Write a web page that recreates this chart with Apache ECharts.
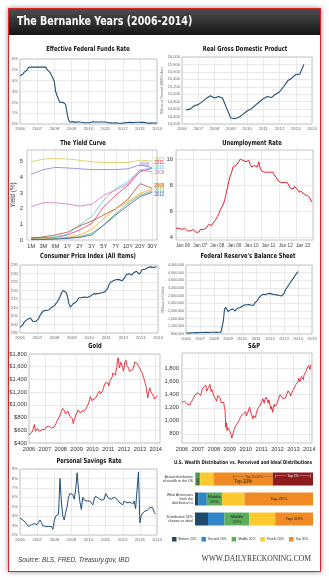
<!DOCTYPE html>
<html>
<head>
<meta charset="utf-8">
<script src="https://cdn.jsdelivr.net/npm/echarts@6/dist/echarts.min.js"></script>
<style>
  html, body { margin: 0; padding: 0; background: #fff; }
  #wrap { position: relative; width: 329px; height: 580px; overflow: hidden; }
  #card { position: absolute; left: 8px; top: 8px; width: 311px; height: 562px;
          border: 1px solid #d3262d; background: #fff; box-shadow: 0 0 5px rgba(0,0,0,0.45); }
  #band { position: absolute; left: 9px; top: 9px; width: 311px; height: 26px;
          background: linear-gradient(#4d4d4d, #161616); }
  #chart { position: absolute; left: 0; top: 0; width: 329px; height: 580px; }
</style>
</head>
<body>
<div id="wrap">
  <div id="card"></div>
  <div id="band"></div>
  <div id="chart"></div>
</div>
<script>
// ---------- data ----------
const yearTicks = [2006, 2007, 2008, 2009, 2010, 2011, 2012, 2013, 2014];

// Effective federal funds rate, monthly from Jan 2006 (%)
const fedFundsStart = 2006;
const fedFundsRate = [
  4.45, 4.49, 4.59, 4.79, 4.94, 4.99, 5.24, 5.25, 5.25, 5.25, 5.25, 5.24,
  5.25, 5.26, 5.26, 5.25, 5.25, 5.25, 5.26, 5.02, 4.94, 4.76, 4.49, 4.24,
  3.94, 2.98, 2.61, 2.28, 1.98, 2.00, 2.01, 2.00, 1.81, 0.97, 0.39, 0.16,
  0.15, 0.22, 0.18, 0.15, 0.18, 0.21, 0.16, 0.16, 0.15, 0.12, 0.12, 0.12,
  0.11, 0.13, 0.16, 0.20, 0.20, 0.18, 0.18, 0.19, 0.19, 0.19, 0.19, 0.18,
  0.17, 0.16, 0.14, 0.10, 0.09, 0.09, 0.07, 0.10, 0.08, 0.07, 0.08, 0.07,
  0.08, 0.10, 0.13, 0.14, 0.16, 0.16, 0.16, 0.13, 0.14, 0.16, 0.16, 0.16,
  0.14, 0.15, 0.14, 0.15, 0.11, 0.09, 0.09, 0.08, 0.08, 0.09, 0.08, 0.09,
  0.07
];

// Real GDP, quarterly from 2006 Q2 (billions of chained 2009 dollars)
const gdpStart = 2006.25;
const realGDP = [
  14580, 14600, 14690, 14720, 14800, 14890, 14960, 14900, 14940, 14890,
  14620, 14360, 14340, 14380, 14460, 14550, 14600, 14700, 14790, 14880,
  14940, 14910, 15000, 15060, 15200, 15360, 15430, 15530, 15540, 15800
];

// Treasury yield curves
const maturities = ['1M', '3M', '6M', '1Y', '2Y', '3Y', '5Y', '7Y', '10Y', '20Y', '30Y'];
const curveYears = ['2007', '2006', '2011', '2010', '2008', '2009', '2014', '2013', '2012'];
const yield2007 = [5.00, 5.17, 5.20, 5.17, 5.10, 5.00, 4.95, 4.95, 4.95, 5.10, 5.04];
const yield2006 = [4.20, 4.50, 4.64, 4.60, 4.55, 4.50, 4.50, 4.50, 4.55, 4.80, 4.62];
const yield2011 = [0.15, 0.15, 0.17, 0.32, 0.64, 1.06, 2.13, 2.87, 3.50, 4.36, 4.57];
const yield2010 = [0.10, 0.12, 0.20, 0.36, 0.96, 1.50, 2.55, 3.30, 3.72, 4.47, 4.60];
const yield2008 = [2.13, 2.38, 2.38, 2.30, 2.17, 2.28, 2.87, 3.19, 3.60, 4.47, 4.36];
const yield2009 = [0.10, 0.20, 0.32, 0.50, 0.90, 1.20, 1.60, 2.00, 2.60, 3.60, 3.30];
const yield2014 = [0.06, 0.06, 0.10, 0.17, 0.32, 0.68, 1.38, 2.00, 2.45, 2.98, 3.25];
const yield2013 = [0.04, 0.04, 0.08, 0.13, 0.20, 0.43, 0.96, 1.70, 2.34, 2.87, 3.13];
const yield2012 = [0.02, 0.03, 0.06, 0.10, 0.17, 0.32, 0.96, 1.60, 2.20, 2.77, 3.04];

// Unemployment rate, monthly from Jan 2006 (%)
const unemploymentStart = 2006;
const unemploymentRate = [
  4.7, 4.8, 4.7, 4.7, 4.6, 4.6, 4.7, 4.7, 4.5, 4.4, 4.5, 4.4,
  4.6, 4.5, 4.4, 4.5, 4.4, 4.6, 4.7, 4.6, 4.7, 4.7, 4.7, 5.0,
  5.0, 4.9, 5.1, 5.0, 5.4, 5.6, 5.8, 6.1, 6.1, 6.5, 6.8, 7.3,
  7.8, 8.3, 8.7, 9.0, 9.4, 9.5, 9.5, 9.6, 9.8, 10.0, 9.9, 9.9,
  9.8, 9.8, 9.9, 9.9, 9.6, 9.4, 9.4, 9.5, 9.5, 9.4, 9.8, 9.3,
  9.1, 9.0, 9.0, 9.1, 9.0, 9.1, 9.0, 9.0, 9.0, 8.8, 8.6, 8.5,
  8.3, 8.3, 8.2, 8.2, 8.2, 8.2, 8.2, 8.0, 7.8, 7.8, 7.7, 7.9,
  8.0, 7.7, 7.5, 7.6, 7.5, 7.5, 7.3, 7.2, 7.2, 7.2, 7.0, 6.7
];

// Consumer price index (all items), monthly from Jan 2006
const cpiStart = 2006;
const cpiAllItems = [
  198.3, 198.7, 199.8, 201.5, 202.5, 202.9, 203.5, 203.9, 202.9, 201.8, 201.5, 201.8,
  202.4, 203.5, 205.4, 206.7, 207.9, 208.4, 208.3, 207.9, 208.5, 208.9, 210.2, 210.0,
  211.1, 211.7, 213.5, 214.8, 216.6, 218.8, 220.0, 219.1, 218.8, 216.6, 212.4, 210.2,
  211.1, 212.2, 212.7, 213.2, 213.9, 215.7, 215.4, 215.8, 216.0, 216.2, 216.3, 215.9,
  216.7, 216.7, 217.6, 218.0, 218.2, 218.0, 218.0, 218.3, 218.4, 218.7, 218.8, 219.2,
  220.2, 221.3, 223.5, 224.9, 226.0, 225.7, 225.9, 226.5, 226.9, 226.4, 226.2, 225.7,
  226.7, 227.7, 229.4, 230.1, 229.8, 229.5, 229.1, 230.4, 231.4, 231.3, 230.2, 229.6,
  230.3, 232.2, 232.8, 232.5, 232.9, 233.5, 233.6, 233.9, 234.1, 233.5, 233.1, 234.0
];

// Federal Reserve total assets, monthly from Jan 2006 (millions of dollars)
const balanceStart = 2006;
const fedBalanceSheet = [
  851000, 849000, 856000, 858000, 860000, 865000, 863000, 867000, 871000, 869000, 874000, 878000,
  876000, 872000, 879000, 880000, 884000, 882000, 886000, 889000, 882000, 886000, 889000, 891000,
  893000, 883000, 887000, 888000, 891000, 895000, 898000, 904000, 1480000, 2090000, 2200000, 2260000,
  1970000, 1890000, 2060000, 2160000, 2110000, 2030000, 2010000, 2070000, 2140000, 2150000, 2170000, 2240000,
  2240000, 2270000, 2310000, 2340000, 2330000, 2360000, 2340000, 2320000, 2300000, 2290000, 2300000, 2420000,
  2440000, 2530000, 2640000, 2720000, 2790000, 2860000, 2870000, 2870000, 2850000, 2840000, 2900000, 2930000,
  2920000, 2900000, 2880000, 2860000, 2850000, 2870000, 2840000, 2820000, 2810000, 2800000, 2790000, 2830000,
  2920000, 3060000, 3170000, 3270000, 3360000, 3440000, 3540000, 3610000, 3700000, 3800000, 3900000, 3980000,
  4050000
];

// Gold price, twice a month from Jan 2006 ($/oz)
const goldStart = 2006;
const goldPrice = [
  530, 550, 555, 550, 560, 575, 610, 650, 690, 640, 585, 595, 615, 630, 620, 610, 585, 580, 575, 590, 610, 625, 615, 610,
  615, 635, 650, 655, 640, 645, 665, 670, 655, 645, 635, 630, 650, 655, 650, 645, 680, 710, 735, 760, 785, 795, 785, 810,
  860, 900, 910, 945, 960, 915, 900, 860, 870, 860, 870, 900, 930, 900, 820, 790, 800, 850, 780, 705, 730, 780, 800, 840,
  840, 880, 920, 945, 900, 905, 870, 860, 905, 935, 920, 900, 905, 925, 925, 930, 975, 975, 1015, 1035, 1090, 1130, 1100, 1070,
  1090, 1060, 1070, 1090, 1080, 1080, 1120, 1140, 1180, 1170, 1210, 1215, 1170, 1150, 1180, 1210, 1240, 1270, 1310, 1320, 1350, 1330, 1360, 1380,
  1340, 1300, 1340, 1380, 1390, 1410, 1440, 1500, 1480, 1500, 1490, 1470, 1550, 1590, 1700, 1740, 1720, 1580, 1610, 1670, 1690, 1660, 1590, 1530,
  1580, 1660, 1680, 1700, 1620, 1600, 1590, 1580, 1530, 1500, 1540, 1530, 1530, 1550, 1560, 1610, 1670, 1690, 1680, 1640, 1650, 1640, 1620, 1590,
  1600, 1590, 1560, 1510, 1520, 1530, 1420, 1380, 1340, 1300, 1260, 1170, 1110, 1180, 1230, 1270, 1220, 1200, 1180, 1210, 1160, 1130, 1090, 1080,
  1110, 1130, 1120, 1140
];

// S&P 500 index, twice a month from Jan 2006
const spStart = 2006;
const sp500 = [
  1285, 1265, 1280, 1290, 1300, 1295, 1310, 1305, 1260, 1270, 1250, 1270, 1240, 1275, 1300, 1300, 1320, 1335, 1365, 1380, 1400, 1400, 1420, 1418,
  1430, 1438, 1455, 1407, 1390, 1421, 1470, 1482, 1510, 1531, 1530, 1503, 1550, 1455, 1440, 1474, 1510, 1527, 1560, 1549, 1450, 1481, 1490, 1468,
  1380, 1379, 1350, 1331, 1300, 1323, 1390, 1386, 1420, 1400, 1340, 1280, 1250, 1267, 1290, 1283, 1200, 1165, 900, 969, 850, 896, 880, 903,
  850, 826, 790, 735, 750, 798, 850, 873, 900, 919, 940, 919, 940, 987, 1010, 1021, 1060, 1057, 1080, 1036, 1100, 1096, 1110, 1115,
  1140, 1074, 1095, 1104, 1150, 1169, 1210, 1187, 1120, 1089, 1080, 1031, 1080, 1102, 1080, 1049, 1120, 1141, 1180, 1183, 1200, 1181, 1240, 1258,
  1290, 1286, 1340, 1327, 1270, 1326, 1330, 1364, 1340, 1345, 1270, 1321, 1330, 1292, 1180, 1219, 1170, 1131, 1220, 1253, 1220, 1247, 1230, 1258,
  1290, 1312, 1350, 1366, 1400, 1408, 1390, 1398, 1340, 1310, 1330, 1362, 1350, 1379, 1410, 1407, 1460, 1441, 1430, 1412, 1380, 1416, 1430, 1426,
  1480, 1498, 1520, 1515, 1560, 1569, 1590, 1598, 1650, 1631, 1600, 1606, 1680, 1686, 1660, 1633, 1700, 1682, 1720, 1757, 1790, 1806, 1780, 1848,
  1830, 1790, 1840, 1860
];
const spLabels = [800, 1000, 1200, 1400, 1600, 1800];

// Personal saving rate, monthly from Jan 2006 (%)
const savingsStart = 2006;
const savingsRate = [
  3.8, 3.8, 3.6, 3.4, 3.3, 3.3, 2.9, 3.0, 3.1, 3.1, 3.2, 3.1,
  3.1, 3.2, 3.6, 3.3, 3.0, 2.9, 2.9, 2.8, 2.9, 2.7, 2.9, 2.6,
  3.5, 4.0, 3.8, 4.2, 8.0, 5.5, 4.0, 3.6, 4.4, 5.0, 6.0, 6.4,
  6.5, 6.3, 5.8, 6.8, 8.6, 6.8, 5.5, 4.7, 6.0, 5.7, 5.8, 5.6,
  5.8, 5.6, 5.4, 5.2, 5.8, 6.1, 5.9, 5.9, 5.8, 5.7, 5.6, 5.8,
  6.4, 6.3, 5.9, 5.7, 5.8, 5.8, 6.0, 6.1, 5.8, 5.6, 5.4, 5.3,
  5.2, 5.6, 5.5, 5.4, 5.4, 5.5, 5.4, 5.3, 5.6, 4.8, 5.0, 8.7,
  3.3, 4.1, 4.3, 4.5, 4.7, 4.6, 4.8, 4.9, 5.1, 4.9, 4.4, 4.2
];

// Wealth distribution (% of total wealth held by each quintile)
const wealthRows = ['Actual distribution\nof wealth in the US', 'What Americans\nthink the\ndistribution is', 'Distribution 92%\nchoose as ideal'];
const bottom20 = [0.2, 3, 11];
const second20 = [0.3, 7, 14];
const middle20 = [3.9, 13, 21];
const fourth20 = [11.3, 19, 22];
const top20 = [50.3, 58, 32];
const top1 = [34, 0, 0];

// ---------- helpers ----------
const FONT = '"Liberation Sans", Arial, Helvetica, sans-serif';
const COND = '"Liberation Sans Narrow", "DejaVu Sans Condensed", "Arial Narrow", sans-serif';
const BLUE = '#1f4f7a';
const RED = '#e61e2a';

function series(start, perYear, vals) {
  return vals.map((v, i) => [start + i / perYear, v]);
}

const gridBox = { show: true, backgroundColor: '#fff', borderColor: '#a9a9a9', borderWidth: 0.7,
                  containLabel: false, outerBoundsMode: 'none' };
function grid(left, top, width, height) {
  return Object.assign({ left, top, width, height }, gridBox);
}
const splitStyle = { show: true, lineStyle: { color: '#dadada', width: 0.6 } };

function yearAxis(gi, max, fontSize, color) {
  return {
    type: 'value', gridIndex: gi, min: 2006, max: max, interval: 1,
    axisLine: { show: false }, axisTick: { show: false }, splitLine: splitStyle,
    axisLabel: { fontSize: fontSize, color: color, margin: 3, fontFamily: FONT,
                 formatter: v => String(v) }
  };
}
// year axis whose right end runs a little past the last labelled year
function openYearAxis(gi, max, fontSize, color) {
  return {
    type: 'value', gridIndex: gi, min: 2006, max: max,
    axisLine: { show: false }, axisTick: { show: false, customValues: yearTicks }, splitLine: splitStyle,
    axisLabel: { fontSize: fontSize, color: color, margin: 3, fontFamily: FONT,
                 customValues: yearTicks, formatter: v => String(v) }
  };
}
function numAxis(gi, min, max, interval, fontSize, color, fmt, extra) {
  return Object.assign({
    type: 'value', gridIndex: gi, min: min, max: max, interval: interval,
    axisLine: { show: false }, axisTick: { show: false }, splitLine: splitStyle,
    axisLabel: { fontSize: fontSize, color: color, margin: 2, fontFamily: FONT, formatter: fmt }
  }, extra || {});
}
function line(gi, data, color, width) {
  return { type: 'line', xAxisIndex: gi, yAxisIndex: gi, data: data, symbol: 'none',
           showSymbol: false, silent: true, animation: false,
           lineStyle: { color: color, width: width } };
}
const comma = v => v.toLocaleString('en-US');

// ---------- layout ----------
const grids = [
  grid(20, 59, 137, 65),    // 0 fed funds
  grid(182, 57, 130, 67),   // 1 GDP
  grid(27, 150, 130, 90),   // 2 yield curve
  grid(176, 150, 137, 90),  // 3 unemployment
  grid(20, 265, 138, 68),   // 4 CPI
  grid(186, 265, 126, 69),  // 5 balance sheet
  grid(29, 354, 131, 89),   // 6 gold
  grid(182, 353, 130, 90),  // 7 S&P
  grid(20, 469, 137, 66),   // 8 savings
  Object.assign(grid(195, 469, 118, 60), { show: false })  // 9 wealth
];

const xAxes = [
  yearAxis(0, 2014, 4.3, '#666'),
  yearAxis(1, 2014, 4.3, '#666'),
  {
    type: 'value', gridIndex: 2, min: -0.35, max: 10.4,
    axisLine: { show: false }, axisTick: { show: false, customValues: maturities.map((m, i) => i) },
    splitLine: splitStyle,
    axisLabel: { fontSize: 5.6, color: '#333', margin: 3, fontFamily: FONT,
                 customValues: maturities.map((m, i) => i), formatter: v => maturities[Math.round(v)] }
  },
  Object.assign(yearAxis(3, 2014, 4.7, '#444'), {
    axisLabel: { fontSize: 4.7, color: '#444', margin: 3, fontFamily: FONT, align: 'left',
                 formatter: v => v < 2014 ? 'Jan ' + String(v).slice(2) : '' }
  }),
  yearAxis(4, 2014, 4.3, '#666'),
  yearAxis(5, 2015, 4.3, '#666'),
  openYearAxis(6, 2014.27, 5.6, '#333'),
  openYearAxis(7, 2014.17, 5.6, '#333'),
  yearAxis(8, 2014, 4.3, '#666'),
  { type: 'value', gridIndex: 9, min: 0, max: 100, show: false }
];

const yAxes = [
  numAxis(0, 0, 6, 1, 4.3, '#666', v => v + '%'),
  numAxis(1, 14200, 16000, 200, 4.0, '#666', comma, {
    name: 'Billions of Chained 2009 Dollars', nameLocation: 'middle', nameGap: 12, nameRotate: 90,
    nameTextStyle: { fontSize: 3.3, color: '#666', fontFamily: FONT }
  }),
  {
    type: 'value', gridIndex: 2, min: 0, max: 5.75,
    axisLine: { show: false }, axisTick: { show: false, customValues: [0, 1, 2, 3, 4, 5] },
    splitLine: { show: false },
    axisLabel: { fontSize: 5.8, color: '#333', margin: 4, fontFamily: FONT, customValues: [0, 1, 2, 3, 4, 5] },
    name: 'Yield (%)', nameLocation: 'middle', nameGap: 9, nameRotate: 90,
    nameTextStyle: { fontSize: 6.3, color: '#333', fontFamily: FONT }
  },
  {
    type: 'value', gridIndex: 3, min: 3.8, max: 10.7,
    axisLine: { show: false }, axisTick: { show: false, customValues: [4, 6, 8, 10] },
    splitLine: splitStyle,
    axisLabel: { fontSize: 5.8, color: '#333', margin: 3, fontFamily: FONT, customValues: [4, 6, 8, 10] }
  },
  numAxis(4, 195, 235, 5, 4.3, '#666', v => String(v)),
  numAxis(5, 800000, 4400000, 400000, 3.6, '#666', comma, {
    name: 'Millions of Dollars', nameLocation: 'middle', nameGap: 15, nameRotate: 90,
    nameTextStyle: { fontSize: 3.3, color: '#666', fontFamily: FONT }
  }),
  numAxis(6, 400, 1800, 200, 5.8, '#333', v => '$' + comma(v)),
  {
    type: 'value', gridIndex: 7, min: 660, max: 2040,
    axisLine: { show: false }, axisTick: { show: false, customValues: spLabels },
    splitLine: splitStyle,
    axisLabel: { fontSize: 5.8, color: '#333', margin: 3, fontFamily: FONT, customValues: spLabels, formatter: comma }
  },
  numAxis(8, 2, 9, 1, 4.3, '#666', v => v + '%'),
  {
    type: 'category', gridIndex: 9, data: wealthRows, inverse: true,
    axisLine: { show: false }, axisTick: { show: false },
    axisLabel: { fontSize: 3.6, color: '#333', fontFamily: FONT, margin: 2, lineHeight: 4.4, align: 'right' }
  }
];

// ---------- series ----------
const curveData = [yield2007, yield2006, yield2011, yield2010, yield2008, yield2009, yield2014, yield2013, yield2012];
const curveColors = ['#d6c650', '#8a78dc', '#e8355d', '#5cc6ea', '#d072c4', '#a5522f', '#f4a425', '#5cb85c', '#3a59b5'];
const curveLabelOffset = [[0, -1.5], [-15, -3], [0, -6], [0, 0], [0, 1], [0, -3], [0, -2], [0, 0], [0, 2]];

const allSeries = [
  line(0, series(fedFundsStart, 12, fedFundsRate), BLUE, 1.1),
  line(1, series(gdpStart, 4, realGDP), BLUE, 1.1)
];
curveData.forEach((d, k) => {
  const s = line(2, d.map((v, i) => [i, v]), curveColors[k], 0.8);
  s.name = curveYears[k];
  s.endLabel = { show: true, formatter: curveYears[k], fontSize: 4.6, color: curveColors[k],
                 distance: 2, offset: curveLabelOffset[k], fontFamily: FONT };
  allSeries.push(s);
});
allSeries.push(
  line(3, series(unemploymentStart, 12, unemploymentRate), RED, 1.0),
  line(4, series(cpiStart, 12, cpiAllItems), BLUE, 1.1),
  line(5, series(balanceStart, 12, fedBalanceSheet), BLUE, 1.1),
  line(6, series(goldStart, 24, goldPrice), RED, 0.9),
  line(7, series(spStart, 24, sp500), RED, 0.9),
  line(8, series(savingsStart, 12, savingsRate), BLUE, 1.0)
);

function wealthBar(name, vals, color, labels) {
  return {
    type: 'bar', name: name, stack: 'w', xAxisIndex: 9, yAxisIndex: 9, barWidth: 13,
    silent: true, animation: false, itemStyle: { color: color },
    data: vals.map((v, i) => labels && labels[i]
      ? { value: v, label: Object.assign({ show: true, fontSize: 4.4, color: '#222', fontFamily: FONT, lineHeight: 4.8 }, labels[i]) }
      : v)
  };
}
allSeries.push(
  wealthBar('Bottom 20%', bottom20, '#1b4a6b'),
  wealthBar('Second 20%', second20, '#2f87c9'),
  wealthBar('Middle 20%', middle20, '#5bae5b', [
    { formatter: 'Middle 4%', rotate: 90, fontSize: 2.6 },
    { formatter: 'Middle\n20%' },
    { formatter: 'Middle\n20%' }
  ]),
  wealthBar('Fourth 20%', fourth20, '#fdc92f'),
  wealthBar('Top 20%', top20, '#f08a24', [
    { formatter: '{b|├──── Top 10-20% ────┤}\n{t|Top 20%}', align: 'center',
      rich: { b: { fontSize: 3.4, color: '#333', padding: [0, 0, 0, 22] }, t: { fontSize: 4.6, color: '#222' } } },
    { formatter: 'Top 20%' },
    { formatter: 'Top 20%' }
  ]),
  wealthBar('Top 1%', top1, '#8c1a1f', [
    { formatter: '├──── Top 1% ────┤', position: 'insideTop', fontSize: 3.4, color: '#fff', distance: 1 },
    null, null
  ])
);

// ---------- texts ----------
function heading(text, x, y, size, squeeze) {
  return { type: 'text', x: x, y: y, silent: true, scaleX: squeeze || 0.82,
           style: { text: text, fill: '#111', fontSize: size || 7, fontWeight: 'bold', fontFamily: COND,
                    align: 'center', verticalAlign: 'middle' } };
}
const texts = [
  { type: 'text', x: 17, y: 22, silent: true, scaleX: 0.92,
    style: { text: 'The Bernanke Years (2006-2014)', fill: '#fff', fontSize: 11.5, fontWeight: 'bold',
             fontFamily: COND, align: 'left', verticalAlign: 'middle' } },
  heading('Effective Federal Funds Rate', 88, 49),
  heading('Real Gross Domestic Product', 245, 49),
  heading('The Yield Curve', 83, 143),
  heading('Unemployment Rate', 252, 143),
  heading('Consumer Price Index (All Items)', 88, 256),
  heading("Federal Reserve's Balance Sheet", 248, 256),
  heading('Gold', 95, 346),
  heading('S&P', 254, 346),
  heading('Personal Savings Rate', 89, 461),
  heading('U.S. Wealth Distribution vs. Perceived and Ideal Distributions', 243, 463, 5.2, 0.85),
  { type: 'text', x: 18, y: 560, silent: true, scaleX: 0.92,
    style: { text: 'Source: BLS, FRED, Treasury.gov, IBD', fill: '#333', fontSize: 7, fontStyle: 'italic',
             fontFamily: FONT, align: 'left', verticalAlign: 'middle' } },
  { type: 'text', x: 311, y: 559, silent: true,
    style: { text: 'WWW.DAILYRECKONING.COM', fill: '#333', fontSize: 7.6,
             fontFamily: '"Liberation Serif", "DejaVu Serif", serif', align: 'right', verticalAlign: 'middle' } }
];

const chart = echarts.init(document.getElementById('chart'), null, { renderer: 'canvas' });
chart.setOption({
  backgroundColor: 'transparent',
  animation: false,
  grid: grids,
  xAxis: xAxes,
  yAxis: yAxes,
  legend: {
    data: ['Bottom 20%', 'Second 20%', 'Middle 20%', 'Fourth 20%', 'Top 20%'],
    left: 172, top: 537, width: 155, padding: 0,
    itemWidth: 4.5, itemHeight: 4.5, itemGap: 5, icon: 'rect',
    textStyle: { fontSize: 3.3, color: '#333', fontFamily: FONT, padding: [0, 0, 0, -3] },
    selectedMode: false
  },
  series: allSeries,
  graphic: texts
});
</script>
</body>
</html>
